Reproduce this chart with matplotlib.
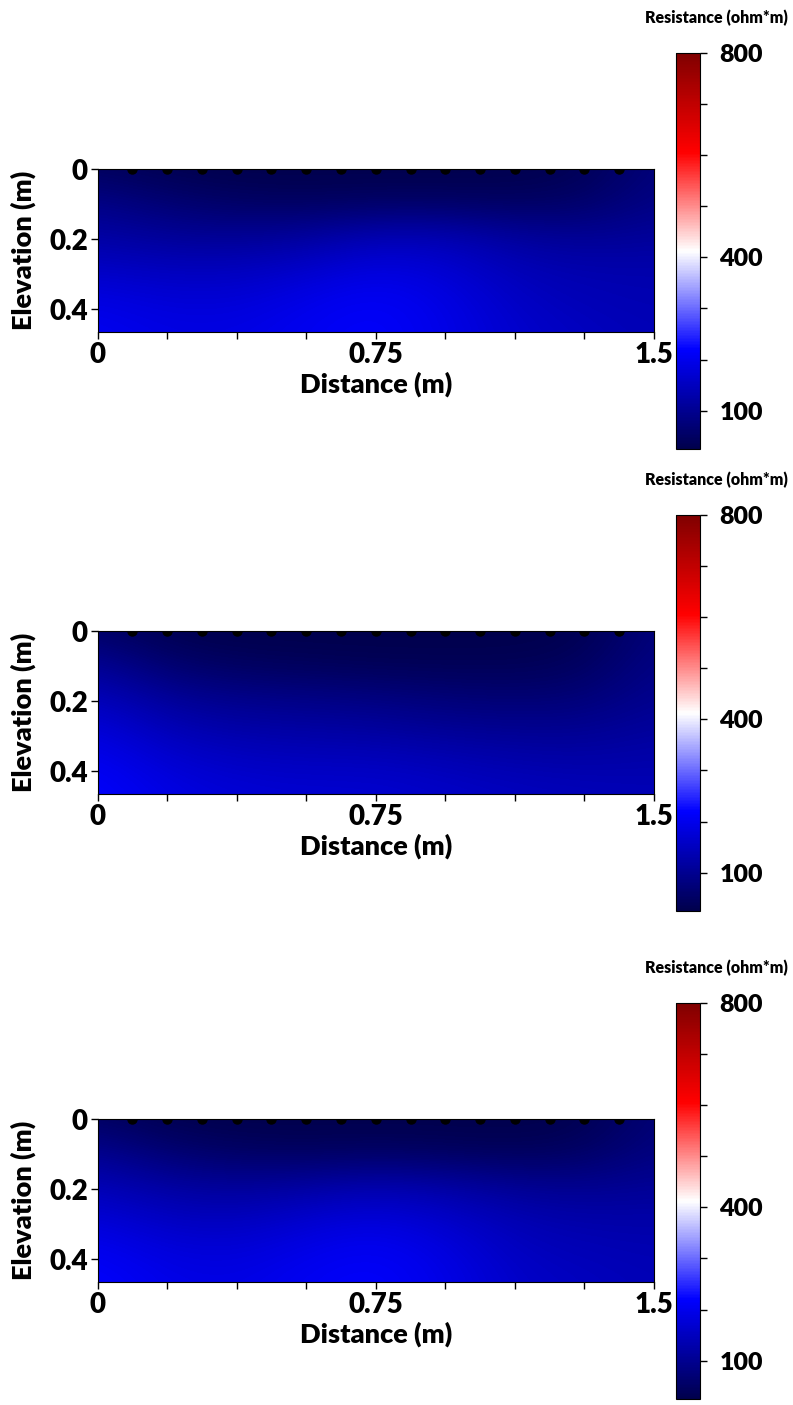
import numpy as np
import matplotlib
matplotlib.use("Agg")
import matplotlib.pyplot as plt

plt.rcParams['font.family'] = ['Lato', 'DejaVu Sans']
plt.rcParams['font.weight'] = 'heavy'
plt.rcParams['axes.labelweight'] = 'heavy'

# Model grid nodes (m)
distance_nodes = [0.0, 0.1875, 0.375, 0.5625, 0.75, 0.9375, 1.125, 1.3125, 1.5]
depth_nodes = [0.0, 0.093, 0.186, 0.279, 0.372, 0.465]

# Electrode positions along the surface (m)
electrode_x = [0.09375, 0.1875, 0.28125, 0.375, 0.46875, 0.5625, 0.65625, 0.75,
               0.84375, 0.9375, 1.03125, 1.125, 1.21875, 1.3125, 1.40625]

# Inverted resistivity (ohm*m), rows = depth nodes, columns = distance nodes
section_a = [
    [45, 30, 25, 25, 25, 25, 28, 35, 80],
    [90, 65, 50, 45, 50, 50, 45, 55, 90],
    [120, 105, 100, 110, 135, 135, 110, 100, 110],
    [155, 145, 145, 160, 185, 170, 140, 130, 130],
    [190, 175, 175, 195, 212, 190, 155, 140, 135],
    [205, 190, 190, 205, 218, 195, 165, 150, 140],
]
section_b = [
    [55, 30, 25, 25, 25, 25, 25, 30, 80],
    [105, 60, 45, 40, 35, 35, 35, 45, 90],
    [145, 105, 90, 85, 80, 70, 65, 70, 100],
    [180, 140, 125, 120, 115, 105, 100, 100, 115],
    [205, 170, 155, 150, 150, 140, 130, 125, 130],
    [220, 190, 175, 170, 170, 160, 150, 145, 140],
]
section_c = [
    [50, 30, 25, 25, 25, 25, 25, 30, 75],
    [100, 65, 50, 45, 50, 45, 40, 50, 85],
    [140, 115, 105, 115, 130, 120, 100, 95, 105],
    [175, 150, 145, 165, 180, 160, 135, 125, 125],
    [205, 180, 175, 195, 210, 185, 150, 140, 135],
    [220, 195, 190, 208, 218, 195, 160, 150, 140],
]
sections = [section_a, section_b, section_c]

cbar_ticks = [100, 200, 300, 400, 500, 600, 700, 800]
cbar_labels = ['100', '', '', '400', '', '', '', '800']
vmin, vmax = 25, 800

W, H = 793, 1405
fig = plt.figure(figsize=(W / 100, H / 100), dpi=100)


def box(l, t, r, b):
    return [l / W, 1 - b / H, (r - l) / W, (b - t) / H]


panel_tops = [169, 631, 1119]
dx = distance_nodes[1] - distance_nodes[0]
dz = depth_nodes[1] - depth_nodes[0]
zmax = depth_nodes[-1]

for top, data in zip(panel_tops, sections):
    ax = fig.add_axes(box(97.5, top, 654, top + 163))
    im = ax.imshow(np.array(data, dtype=float), cmap='seismic', vmin=vmin, vmax=vmax,
                   interpolation='bicubic', aspect='auto', origin='upper',
                   extent=[distance_nodes[0] - dx / 2, distance_nodes[-1] + dx / 2,
                           zmax + dz / 2, -dz / 2])
    ax.plot(electrode_x, [0] * len(electrode_x), 'o', color='black', ms=6.5,
            clip_on=True, zorder=3)
    ax.set_xlim(0, 1.5)
    ax.set_ylim(zmax, 0)
    ax.set_xticks([0, 0.75, 1.5])
    ax.set_xticklabels(['0', '0.75', '1.5'])
    ax.set_xticks(distance_nodes, minor=True)
    ax.set_yticks([0, 0.2, 0.4])
    ax.set_yticklabels(['0', '0.2', '0.4'])
    ax.tick_params(which='both', direction='out', length=5, width=1,
                   labelsize=20, pad=2)
    for s in ax.spines.values():
        s.set_linewidth(0.8)
    ax.set_xlabel('Distance (m)', fontsize=19.5, fontweight='heavy')
    ax.set_ylabel('Elevation (m)', fontsize=19.5, fontweight='heavy')
    ax.xaxis.set_label_coords(0.5, -0.245)
    ax.yaxis.set_label_coords(-0.11, 0.5)

    ctop = top - 116
    cax = fig.add_axes(box(676, ctop, 700, ctop + 396))
    cb = fig.colorbar(im, cax=cax)
    cb.set_ticks(cbar_ticks)
    cb.set_ticklabels(cbar_labels)
    cb.outline.set_linewidth(0.8)
    cax.tick_params(length=5, width=1, labelsize=18, pad=9)
    fig.text(716 / W, 1 - (ctop - 35) / H, 'Resistance (ohm*m)', fontsize=11.5,
             fontweight='heavy', ha='center', va='center')

fig.savefig('out.png', dpi=100)
